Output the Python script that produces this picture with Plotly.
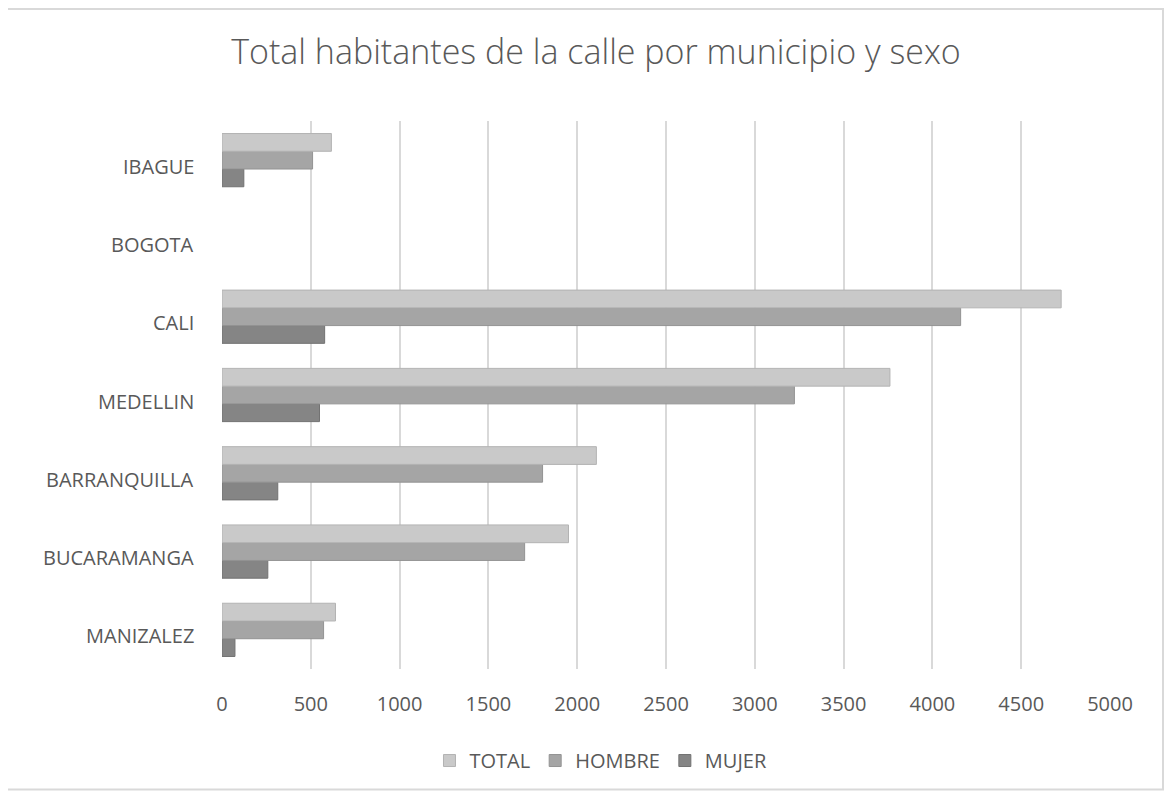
import plotly.graph_objects as go

categories = ["MANIZALEZ", "BUCARAMANGA", "BARRANQUILLA", "MEDELLIN", "CALI", "BOGOTA", "IBAGUE"]
total = [639, 1951, 2108, 3761, 4725, None, 616]
hombre = [572, 1704, 1805, 3223, 4159, None, 510]
mujer = [73, 258, 314, 549, 578, None, 123]
tick_vals = [0, 500, 1000, 1500, 2000, 2500, 3000, 3500, 4000, 4500, 5000]

font = "'Open Sans', Lato, sans-serif"
txt = "#595959"

fig = go.Figure()
fig.add_trace(go.Bar(y=categories, x=mujer, name="MUJER", orientation="h",
                     marker=dict(color="#858585", line=dict(color="#727272", width=1))))
fig.add_trace(go.Bar(y=categories, x=hombre, name="HOMBRE", orientation="h",
                     marker=dict(color="#a5a5a5", line=dict(color="#939393", width=1))))
fig.add_trace(go.Bar(y=categories, x=total, name="TOTAL", orientation="h",
                     marker=dict(color="#c9c9c9", line=dict(color="#b3b3b3", width=1))))

annotations = [
    dict(text=c, xref="paper", x=0, xanchor="right", xshift=-26, y=c, yref="y",
         yanchor="middle", yshift=-6, showarrow=False,
         font=dict(family=font, size=20, color=txt))
    for c in categories
]

fig.update_layout(
    width=1165, height=785,
    paper_bgcolor="white", plot_bgcolor="white",
    barmode="group", bargap=0.32, bargroupgap=0,
    margin=dict(l=214, r=63, t=113, b=124),
    title=dict(text="Total habitantes de la calle por municipio y sexo",
               x=0.5047, xref="container", xanchor="center", y=0.944, yref="container",
               yanchor="middle",
               font=dict(family=font, size=34, color=txt, weight=300)),
    xaxis=dict(range=[0, 5000], tickvals=tick_vals, showgrid=True, gridcolor="#d9d9d9",
               gridwidth=2, zeroline=False, showline=False,
               tickfont=dict(family=font, size=20, color=txt),
               ticks="outside", ticklen=17, tickcolor="rgba(0,0,0,0)"),
    yaxis=dict(categoryorder="array", categoryarray=categories, showgrid=False,
               zeroline=False, showline=False, showticklabels=False, ticks=""),
    legend=dict(orientation="h", traceorder="reversed", x=0.4268, xanchor="center",
                y=-0.167, yanchor="middle", font=dict(family=font, size=20, color=txt),
                itemwidth=30),
    annotations=annotations,
    showlegend=True,
)
fig.add_shape(type="rect", xref="paper", yref="paper", x0=-0.2421, x1=1.0597,
              y0=-0.2199, y1=1.2045, line=dict(color="#d9d9d9", width=2), layer="below")

fig.write_html("out.html")
